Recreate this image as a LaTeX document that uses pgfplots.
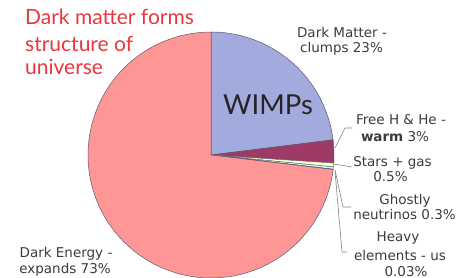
\documentclass[border=0pt]{standalone}
\usepackage{pgfplots}
\pgfplotsset{compat=1.18}
\usepackage{fontspec}
\setmainfont{DejaVu Sans}
\newfontfamily\gill{Lato}
\definecolor{deC}{RGB}{255,150,150}
\definecolor{dmC}{RGB}{163,170,221}
\definecolor{hheC}{RGB}{158,58,102}
\definecolor{starC}{RGB}{255,255,204}
\definecolor{nuC}{RGB}{204,255,255}
\definecolor{heavyC}{RGB}{102,0,102}
\definecolor{edgeC}{RGB}{90,90,110}
\definecolor{txtC}{RGB}{60,60,60}
\definecolor{titleC}{RGB}{232,56,60}
\begin{document}
\begin{tikzpicture}
% slice values (percent)
\def\vDM{23}\def\vHHe{3}\def\vStars{0.5}\def\vNu{0.3}\def\vHeavy{0.03}\def\vDE{73}
\pgfmathsetmacro\tot{\vDM+\vHHe+\vStars+\vNu+\vHeavy+\vDE}
\pgfmathsetmacro\k{360/\tot}
\pgfmathsetmacro\aA{90}
\pgfmathsetmacro\aB{\aA-\k*\vDM}
\pgfmathsetmacro\aC{\aB-\k*\vHHe}
\pgfmathsetmacro\aD{\aC-\k*\vStars}
\pgfmathsetmacro\aE{\aD-\k*\vNu}
\pgfmathsetmacro\aF{\aE-\k*\vHeavy}
\pgfmathsetmacro\aG{\aF-\k*\vDE}
\begin{axis}[width=456bp,height=278bp,scale only axis,
  xmin=0,xmax=456,ymin=0,ymax=278,hide axis,clip=false]
\addplot[fill=dmC,draw=edgeC,line width=0.5pt,domain=\aB:\aA,samples=80,variable=\t]
  ({211+123*cos(\t)},{123+123*sin(\t)}) -- (axis cs:211,123) -- cycle;
\addplot[fill=hheC,draw=edgeC,line width=0.5pt,domain=\aC:\aB,samples=20,variable=\t]
  ({211+123*cos(\t)},{123+123*sin(\t)}) -- (axis cs:211,123) -- cycle;
\addplot[fill=starC,draw=edgeC,line width=0.4pt,domain=\aD:\aC,samples=5,variable=\t]
  ({211+123*cos(\t)},{123+123*sin(\t)}) -- (axis cs:211,123) -- cycle;
\addplot[fill=nuC,draw=edgeC,line width=0.4pt,domain=\aE:\aD,samples=5,variable=\t]
  ({211+123*cos(\t)},{123+123*sin(\t)}) -- (axis cs:211,123) -- cycle;
\addplot[fill=heavyC,draw=edgeC,line width=0.3pt,domain=\aF:\aE,samples=3,variable=\t]
  ({211+123*cos(\t)},{123+123*sin(\t)}) -- (axis cs:211,123) -- cycle;
\addplot[fill=deC,draw=edgeC,line width=0.5pt,domain=\aG:\aF,samples=200,variable=\t]
  ({211+123*cos(\t)},{123+123*sin(\t)}) -- (axis cs:211,123) -- cycle;
% leader lines
\draw[gray,line width=0.6pt] (axis cs:335,130) -- (axis cs:345,150) -- (axis cs:352,150);
\draw[gray,line width=0.6pt] (axis cs:334,114) -- (axis cs:352,111);
\draw[gray,line width=0.6pt] (axis cs:335,108) -- (axis cs:343,71) -- (axis cs:351,71);
\draw[gray,line width=0.6pt] (axis cs:335,107) -- (axis cs:342,26) -- (axis cs:347,26);
% title
\node[anchor=base west,text=titleC,font=\gill\fontsize{21bp}{24bp}\selectfont,inner sep=0pt] at (axis cs:25,253) {Dark matter forms};
\node[anchor=base west,text=titleC,font=\gill\fontsize{21bp}{24bp}\selectfont,inner sep=0pt] at (axis cs:25,226) {structure of};
\node[anchor=base west,text=titleC,font=\gill\fontsize{21bp}{24bp}\selectfont,inner sep=0pt] at (axis cs:25,203) {universe};
% WIMPs
\node[anchor=base west,text=black!85,font=\gill\fontsize{27.5bp}{30bp}\selectfont,inner sep=0pt] at (axis cs:223,163) {WIMPs};
% labels
\tikzset{lbl/.style={anchor=base,text=txtC,font=\fontsize{13.5bp}{16bp}\selectfont,inner sep=0pt}}
\node[lbl] at (axis cs:342,240) {Dark Matter -};
\node[lbl] at (axis cs:341.5,225) {clumps 23\%};
\node[lbl] at (axis cs:401,153) {Free H \& He -};
\node[lbl] at (axis cs:395,136) {\textbf{warm} 3\%};
\node[lbl] at (axis cs:392.5,111) {Stars + gas};
\node[lbl] at (axis cs:390.5,96) {0.5\%};
\node[lbl] at (axis cs:405,73) {Ghostly};
\node[lbl] at (axis cs:404.5,58) {neutrinos 0.3\%};
\node[lbl] at (axis cs:398,36) {Heavy};
\node[lbl] at (axis cs:400,18) {elements - us};
\node[lbl] at (axis cs:406,2) {0.03\%};
\node[lbl] at (axis cs:66,21) {Dark Energy -};
\node[lbl] at (axis cs:65,5) {expands 73\%};
\end{axis}
\pgfresetboundingbox
\path[use as bounding box] (current axis.south west) rectangle (current axis.north east);
\end{tikzpicture}
\end{document}
